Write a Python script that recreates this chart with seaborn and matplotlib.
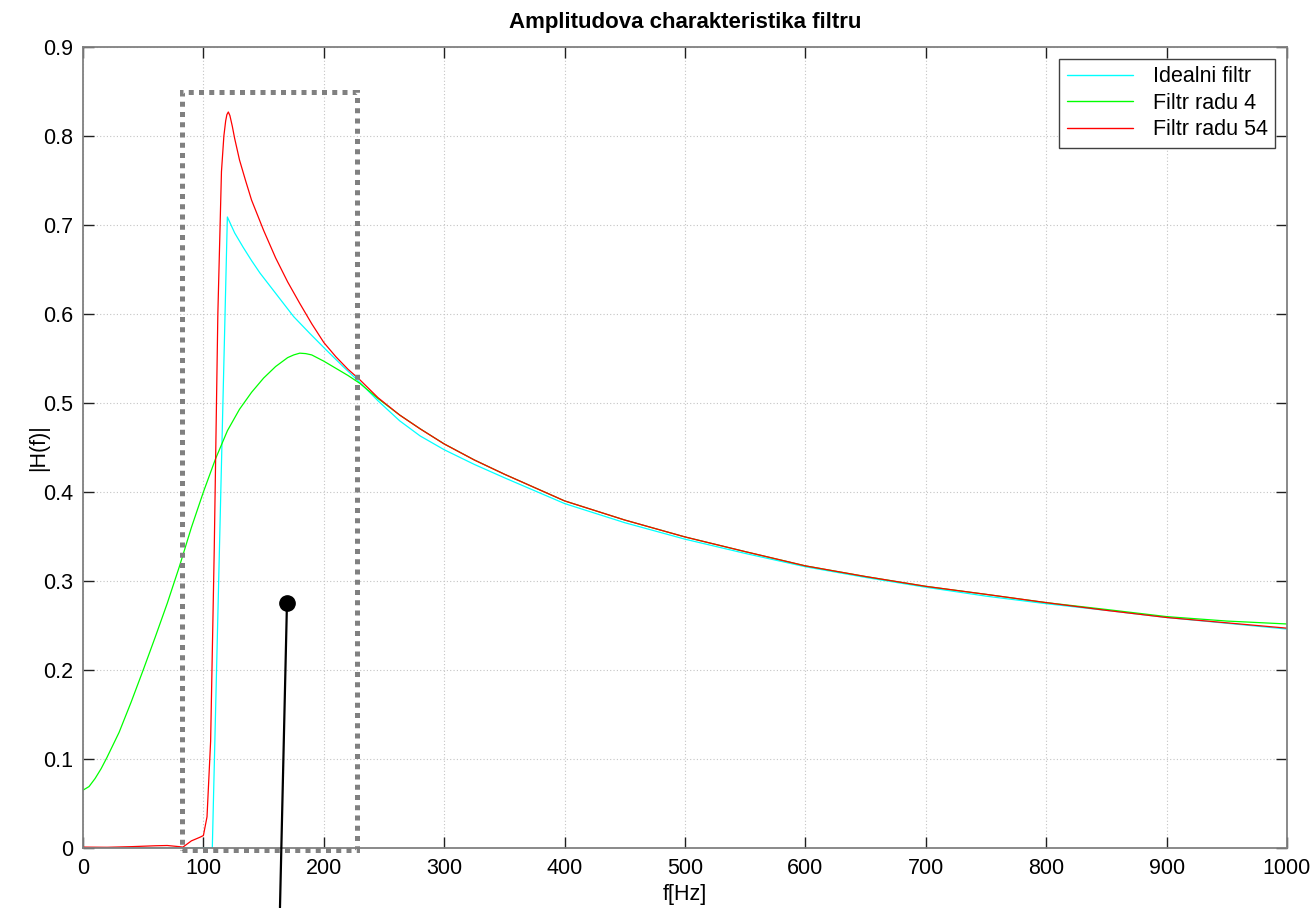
import matplotlib
matplotlib.use("Agg")
import matplotlib.pyplot as plt
import seaborn as sns
import pandas as pd
from matplotlib.patches import Rectangle

# ---------------- data ----------------
f_ideal = [0, 107.4, 119.9, 126, 133, 140, 147, 161, 175, 188.5, 202, 216,
           230, 245, 263, 280, 300, 325, 350, 400, 450, 500, 550, 600, 650,
           700, 750, 800, 850, 900, 950, 1000]
h_ideal = [0, 0, 0.709, 0.691, 0.675, 0.660, 0.646, 0.6215, 0.597, 0.578,
           0.5596, 0.541, 0.523, 0.5025, 0.480, 0.463, 0.4475, 0.431, 0.416,
           0.387, 0.3655, 0.347, 0.331, 0.316, 0.304, 0.293, 0.283, 0.2745,
           0.267, 0.259, 0.2525, 0.246]

f_ord4 = [0, 5, 10, 15, 20, 30, 40, 50, 60, 70, 80, 90, 100, 110, 120, 130,
          140, 150, 160, 170, 175, 180, 185, 190, 200, 210, 220, 230, 245, 263,
          280, 300, 325, 350, 400, 450, 500, 550, 600, 650, 700, 750, 800, 850,
          900, 950, 1000]
h_ord4 = [0.065, 0.069, 0.078, 0.089, 0.102, 0.13, 0.164, 0.20, 0.237, 0.275,
          0.316, 0.36, 0.40, 0.437, 0.469, 0.493, 0.512, 0.528, 0.541, 0.551,
          0.554, 0.556, 0.5555, 0.554, 0.547, 0.539, 0.531, 0.522, 0.505,
          0.4865, 0.471, 0.454, 0.436, 0.42, 0.39, 0.3685, 0.3495, 0.333,
          0.317, 0.305, 0.294, 0.285, 0.2757, 0.268, 0.260, 0.255, 0.2517]

f_ord54 = [0, 20, 40, 60, 70, 80, 83, 90, 97, 100, 103, 106, 109, 112, 115,
           117, 118.5, 119.5, 120.7, 122, 124, 126, 128, 130, 135, 140, 150,
           160, 170, 180, 190, 200, 210, 220, 230, 245, 263, 280, 300, 325, 350,
           400, 450, 500, 550, 600, 650, 700, 750, 800, 850, 900, 950, 1000]
h_ord54 = [0.001, 0.0008, 0.0015, 0.0025, 0.0028, 0.0015, 0.001, 0.008, 0.012,
           0.014, 0.035, 0.12, 0.335, 0.60, 0.76, 0.80, 0.817, 0.824, 0.827,
           0.823, 0.811, 0.797, 0.785, 0.773, 0.750, 0.728, 0.694, 0.663,
           0.636, 0.612, 0.589, 0.568, 0.552, 0.538, 0.526, 0.506, 0.4865,
           0.471, 0.454, 0.436, 0.42, 0.39, 0.3685, 0.3495, 0.333, 0.317,
           0.305, 0.294, 0.285, 0.2757, 0.267, 0.259, 0.253, 0.247]

series_names = ["Idealni filtr", "Filtr radu 4", "Filtr radu 54"]
series_colors = ["#00FFFF", "#00FF00", "#FF0000"]

x_ticks = [0, 100, 200, 300, 400, 500, 600, 700, 800, 900, 1000]
y_ticks = [0, 0.1, 0.2, 0.3, 0.4, 0.5, 0.6, 0.7, 0.8, 0.9]

title_text = "Amplitudova charakteristika filtru"
x_label = "f[Hz]"
y_label = "|H(f)|"

# annotation (highlight box and pointer)
box_f0, box_f1 = 82.5, 227.3
box_h0, box_h1 = -0.002, 0.849
pin_f, pin_h = 169.4, 0.275
pin_end_f, pin_end_h = 163.6, -0.067

# ---------------- build long table ----------------
frames = []
for name, fx, hy in zip(series_names, [f_ideal, f_ord4, f_ord54],
                        [h_ideal, h_ord4, h_ord54]):
    frames.append(pd.DataFrame({"f": fx, "H": hy, "series": name}))
df = pd.concat(frames, ignore_index=True)

# ---------------- style ----------------
sns.set_theme(style="white")
plt.rcParams["font.family"] = ["Liberation Sans", "DejaVu Sans"]
plt.rcParams["text.color"] = "black"
plt.rcParams["axes.labelcolor"] = "black"

fig = plt.figure(figsize=(13.16, 9.08), dpi=100)
ax = fig.add_axes([83 / 1316, 60 / 908, (1287 - 83) / 1316, (848 - 47) / 908])

sns.lineplot(data=df, x="f", y="H", hue="series", hue_order=series_names,
             palette=dict(zip(series_names, series_colors)), estimator=None,
             sort=True, linewidth=0.9, ax=ax)

ax.set_xlim(0, 1000)
ax.set_ylim(0, 0.9)
ax.set_xticks(x_ticks)
ax.set_xticklabels([str(t) for t in x_ticks])
ax.set_yticks(y_ticks)
ax.set_yticklabels(["0"] + [f"{t:.1f}" for t in y_ticks[1:]])

ax.grid(True, linestyle=(0, (1, 2)), color="#c4c4c4", linewidth=0.8)
for s in ax.spines.values():
    s.set_visible(True)
    s.set_color("#808080")
    s.set_linewidth(1.3)
ax.tick_params(axis="both", direction="in", length=8, width=1, color="#202020",
               labelsize=15.5, labelcolor="black", top=True, right=True,
               bottom=True, left=True, pad=7)

ax.set_title(title_text, fontsize=16, fontweight="bold", pad=14, color="black")
ax.set_xlabel(x_label, fontsize=15.5, labelpad=4)
ax.set_ylabel(y_label, fontsize=15.5, labelpad=-4)

# highlight box
rect = Rectangle((box_f0, box_h0), box_f1 - box_f0, box_h1 - box_h0,
                 fill=False, edgecolor="#808080", linewidth=3.6,
                 linestyle=(0, (1.0, 1.05)), clip_on=False, zorder=5)
rect.set_capstyle("butt")
ax.add_patch(rect)

# pointer
ax.plot([pin_f, pin_end_f], [pin_h, pin_end_h], color="black", linewidth=1.6,
        clip_on=False, zorder=6)
ax.plot([pin_f], [pin_h], marker="o", markersize=11, color="black",
        clip_on=False, zorder=7)

leg = ax.legend(loc="upper right", fontsize=15.5, frameon=True, fancybox=False,
                framealpha=1, edgecolor="#404040", handlelength=3.1,
                labelspacing=0.25, borderaxespad=0.55, borderpad=0.35,
                handletextpad=0.9)
leg.get_frame().set_linewidth(1.0)
for line in leg.get_lines():
    line.set_linewidth(1.0)

fig.savefig("out.png", dpi=100)
